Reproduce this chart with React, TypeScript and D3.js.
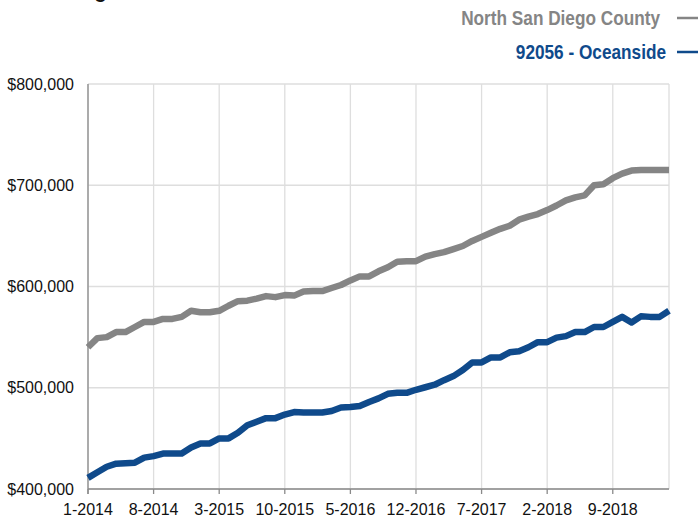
import React from "react";
import * as d3 from "d3";

// monthly series, Jan 2014 .. Mar 2019
const startYear = 2014;
const countyValues = [
  540000, 549000, 550000, 555000, 555000, 560000, 565000, 565000, 568000, 568000,
  570000, 576000, 574500, 574500, 576000, 581000, 585500, 586000, 588000, 590500,
  589500, 591500, 591000, 595000, 595500, 595500, 598500, 601500, 606000, 610000,
  610000, 615000, 619000, 624500, 625000, 625000, 629500, 632000, 634000, 637000,
  640000, 645000, 649000, 653000, 657000, 660000, 666000, 669000, 671500, 675500,
  680000, 685000, 688000, 690000, 700000, 701000, 707000, 711500, 714500, 715000,
  715000, 715000, 715000,
];
const oceansideValues = [
  411000, 416500, 422000, 425000, 425500, 426000, 431000, 432500, 435000, 435000,
  435000, 441000, 445000, 445000, 450000, 450000, 455500, 463000, 466500, 470000,
  470000, 473500, 476000, 475500, 475500, 475500, 477000, 480500, 481000, 482000,
  486000, 489500, 494000, 495000, 495000, 498000, 500500, 503000, 507500, 511500,
  517500, 525000, 525000, 530000, 530000, 535000, 536000, 540000, 545000, 545000,
  549500, 551000, 555000, 555000, 560000, 560000, 565000, 570000, 564500, 570500,
  570000, 570000, 576000,
];
const yTicks = [400000, 500000, 600000, 700000, 800000];
const xTickStep = 7;

const seriesNames = ["North San Diego County", "92056 - Oceanside"];
const seriesColors = ["#858585", "#0f4a8b"];

const W = 698;
const H = 518;
const plot = { left: 88, right: 669, top: 84, bottom: 489 };

function monthLabel(i: number) {
  const m = i % 12;
  const y = startYear + Math.floor(i / 12);
  return `${m + 1}-${y}`;
}

export default function App() {
  const n = countyValues.length;
  const x = d3.scaleLinear().domain([0, n - 1]).range([plot.left, plot.right]);
  const y = d3.scaleLinear().domain([400000, 800000]).range([plot.bottom, plot.top]);
  const fmt = d3.format("$,");

  const line = d3
    .line<number>()
    .x((_, i) => x(i))
    .y((d) => y(d));

  const xTicks = d3.range(0, n, xTickStep);
  const series = [countyValues, oceansideValues];

  return (
    <svg
      width={W}
      height={H}
      viewBox={`0 0 ${W} ${H}`}
      style={{ position: "absolute", left: 0, top: 0, background: "#fff" }}
    >
      {/* title, mostly cut off above the frame */}
      <text
        x={39}
        y={-2}
        style={{ fontFamily: "'Liberation Sans', Arial, sans-serif", fontSize: 20, fontWeight: "bold", fill: "#111" }}
      >
        Pricing
      </text>

      {/* grid */}
      <g stroke="#dedede" strokeWidth={1.3}>
        {yTicks.map((t) => (
          <line key={`h${t}`} x1={plot.left} x2={plot.right} y1={y(t)} y2={y(t)} />
        ))}
        {xTicks.map((t) => (
          <line key={`v${t}`} x1={x(t)} x2={x(t)} y1={plot.top} y2={plot.bottom} />
        ))}
        <line x1={plot.right} x2={plot.right} y1={plot.top} y2={plot.bottom} />
      </g>

      {/* axes */}
      <g stroke="#8a8a8a" strokeWidth={1.3}>
        <line x1={plot.left} x2={plot.left} y1={plot.top} y2={plot.bottom + 5} />
        <line x1={plot.left} x2={plot.right} y1={plot.bottom} y2={plot.bottom} />
        {xTicks.map((t) => (
          <line key={`tk${t}`} x1={x(t)} x2={x(t)} y1={plot.bottom} y2={plot.bottom + 5} />
        ))}
      </g>

      {/* tick labels */}
      <g style={{ fontFamily: "'Liberation Sans', Arial, sans-serif", fontSize: 16, fill: "#111" }}>
        {yTicks.map((t) => (
          <text key={`yl${t}`} x={74} y={y(t)} dy="0.35em" textAnchor="end">
            {fmt(t)}
          </text>
        ))}
        {xTicks.map((t) => (
          <text key={`xl${t}`} x={x(t)} y={515} textAnchor="middle">
            {monthLabel(t)}
          </text>
        ))}
      </g>

      {/* lines */}
      {series.map((s, i) => (
        <path
          key={seriesNames[i]}
          d={line(s) || ""}
          fill="none"
          stroke={seriesColors[i]}
          strokeWidth={6.5}
          strokeLinejoin="round"
        />
      ))}

      {/* legend: condensed bold, emulated by squeezing Liberation Sans Bold */}
      {seriesNames.map((name, i) => {
        const ly = 18 + i * 34;
        const tx = i === 0 ? 660 : 666;
        return (
          <g key={`lg${i}`}>
            <text
              transform={`translate(${tx},${ly}) scale(0.82,1)`}
              dy="0.35em"
              textAnchor="end"
              style={{
                fontFamily: "'Liberation Sans', Arial, sans-serif",
                fontSize: 21,
                fontWeight: "bold",
                fill: seriesColors[i],
              }}
            >
              {name}
            </text>
            <line x1={677} x2={700} y1={ly} y2={ly} stroke={seriesColors[i]} strokeWidth={2.5} />
          </g>
        );
      })}
    </svg>
  );
}
